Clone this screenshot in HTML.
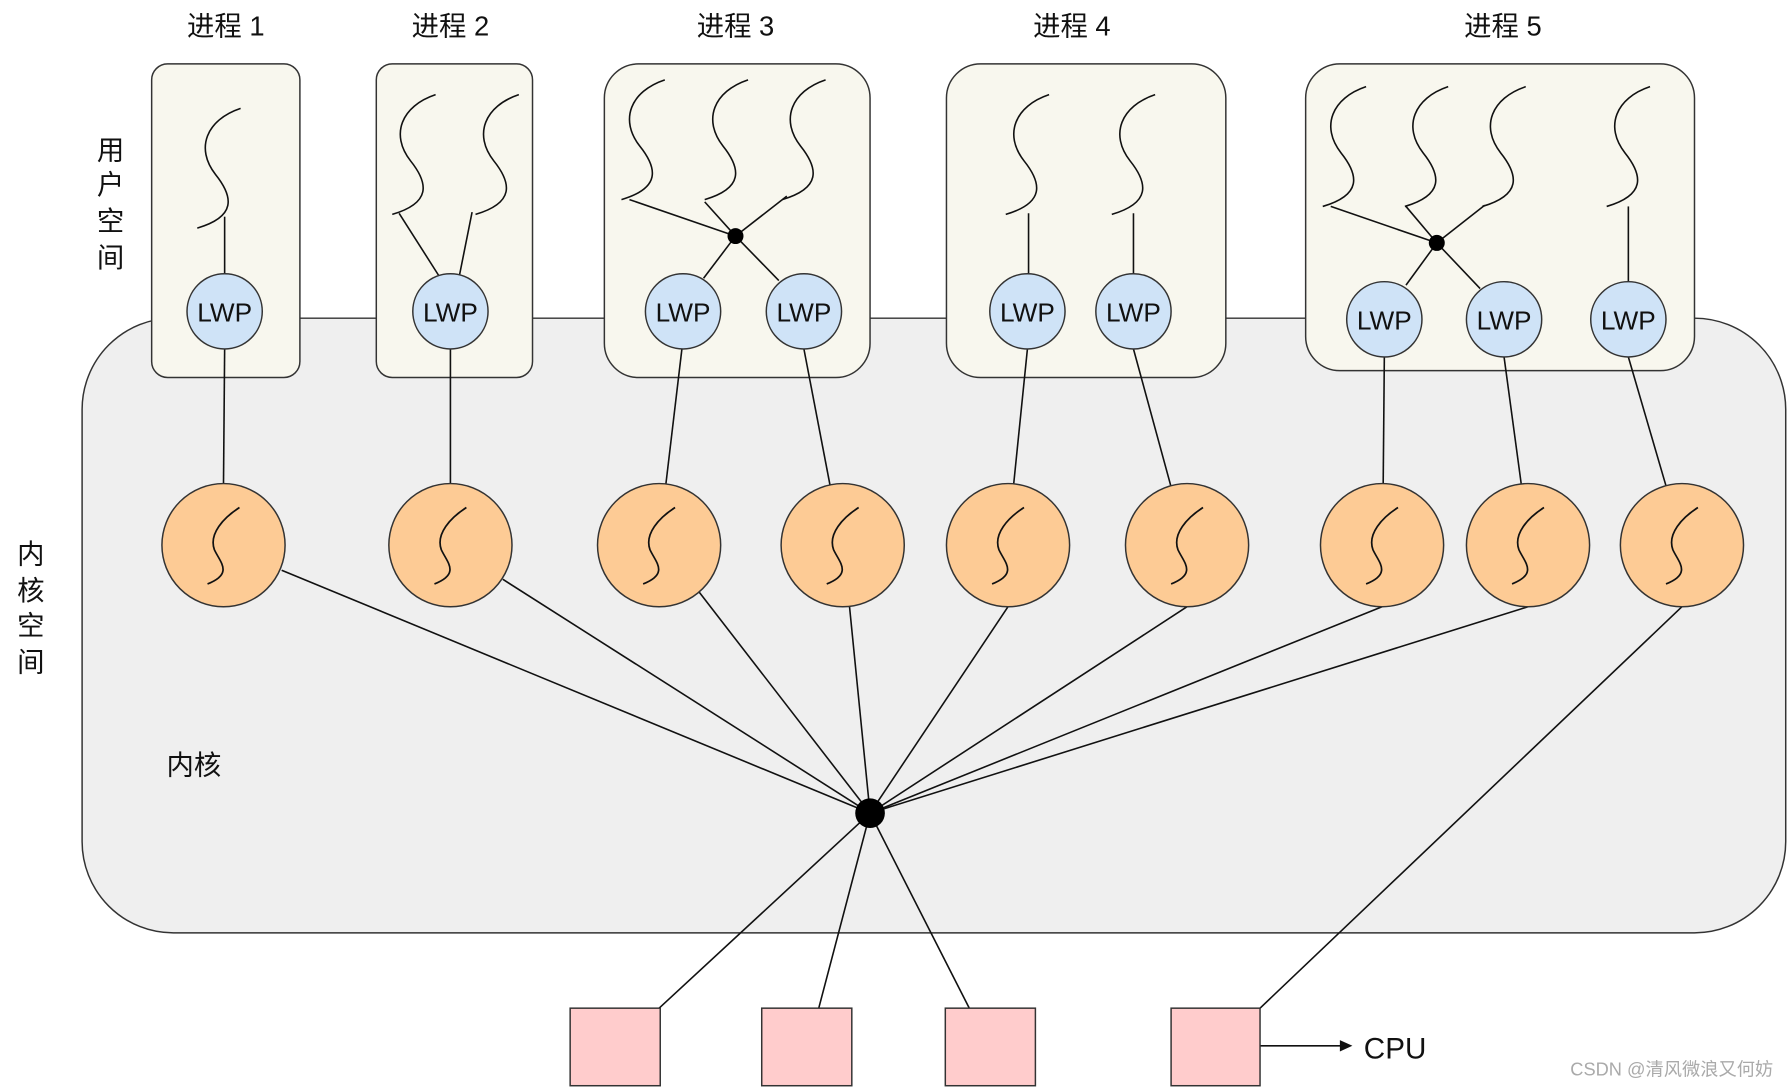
<!DOCTYPE html>
<html><head><meta charset="utf-8"><style>
html,body{margin:0;padding:0;background:#fff;}
svg{display:block;}
text{font-family:"Liberation Sans","Noto Sans CJK SC",sans-serif;fill:#111;}
</style></head><body>
<svg width="1788" height="1088" viewBox="0 0 1568 954" preserveAspectRatio="none" xmlns="http://www.w3.org/2000/svg">
<defs>
<path id="th" d="M0,0 C-30,10 -40,35 -22,58 C-6,78 -4,95 -38,105" fill="none" stroke="#111" stroke-width="1.4"/>
<path id="ks" d="M14,-33 C0,-24 -13,-10 -8,4 C-3,15 9,25 -14,34" fill="none" stroke="#111" stroke-width="1.5"/>
</defs>
<rect x="72" y="279" width="1494" height="539" rx="80" fill="#efefef" stroke="#333" stroke-width="1.3"/>
<g fill="#f8f7ee" stroke="#333" stroke-width="1.3">
<rect x="133" y="56" width="130" height="275" rx="14"/>
<rect x="330" y="56" width="137" height="275" rx="14"/>
<rect x="530" y="56" width="233" height="275" rx="30"/>
<rect x="830" y="56" width="245" height="275" rx="30"/>
<rect x="1145" y="56" width="341" height="269" rx="30"/>
</g>
<g font-size="24" text-anchor="middle">
<text x="198" y="31">进程 1</text><text x="395" y="31">进程 2</text><text x="645" y="31">进程 3</text><text x="940" y="31">进程 4</text><text x="1318" y="31">进程 5</text>
</g>
<g font-size="24" text-anchor="middle">
<text x="97" y="140">用</text><text x="97" y="170">户</text><text x="97" y="202">空</text><text x="97" y="234">间</text>
<text x="27" y="494">内</text><text x="27" y="526">核</text><text x="27" y="557">空</text><text x="27" y="589">间</text>
</g>
<text x="146" y="679" font-size="24">内核</text>
<!-- threads -->
<g>
<use href="#th" x="211" y="95"/>
<use href="#th" x="382" y="83"/><use href="#th" x="455" y="83"/>
<use href="#th" x="583" y="70"/><use href="#th" x="656" y="70"/><use href="#th" x="724" y="70"/>
<use href="#th" x="920" y="83"/><use href="#th" x="1013" y="83"/>
<use href="#th" x="1198" y="76"/><use href="#th" x="1270" y="76"/><use href="#th" x="1338" y="76"/><use href="#th" x="1447" y="76"/>
</g>
<g stroke="#111" stroke-width="1.4" fill="none">
<line x1="197" y1="190" x2="197" y2="240"/>
<line x1="350" y1="187" x2="385" y2="242"/><line x1="414" y1="186" x2="403" y2="241"/>
<line x1="552" y1="175" x2="645" y2="207"/><line x1="618" y1="177" x2="645" y2="207"/><line x1="690" y1="172" x2="645" y2="207"/>
<line x1="645" y1="207" x2="617" y2="244"/><line x1="645" y1="207" x2="683" y2="246"/>
<line x1="902" y1="187" x2="902" y2="240"/><line x1="994" y1="187" x2="994" y2="240"/>
<line x1="1167" y1="181" x2="1260" y2="213"/><line x1="1233" y1="181" x2="1260" y2="213"/><line x1="1302" y1="180" x2="1260" y2="213"/>
<line x1="1260" y1="213" x2="1233" y2="250"/><line x1="1260" y1="213" x2="1298" y2="253"/>
<line x1="1428" y1="181" x2="1428" y2="247"/>
<line x1="197" y1="306" x2="196" y2="424"/><line x1="395" y1="306" x2="395" y2="424"/>
<line x1="598" y1="306" x2="584" y2="424"/><line x1="705" y1="306" x2="728" y2="426"/>
<line x1="901" y1="306" x2="889" y2="424"/><line x1="994" y1="306" x2="1027" y2="427"/>
<line x1="1214" y1="313" x2="1213" y2="424"/><line x1="1319" y1="313" x2="1334" y2="424"/><line x1="1428" y1="313" x2="1461" y2="426"/>
<line x1="247" y1="500" x2="763" y2="713"/><line x1="441" y1="508" x2="763" y2="713"/><line x1="613" y1="519" x2="763" y2="713"/>
<line x1="745" y1="532" x2="763" y2="713"/><line x1="884" y1="532" x2="763" y2="713"/><line x1="1041" y1="532" x2="763" y2="713"/>
<line x1="1212" y1="532" x2="763" y2="713"/><line x1="1340" y1="532" x2="763" y2="713"/>
<line x1="1475" y1="532" x2="1105" y2="884"/>
<line x1="763" y1="713" x2="578" y2="884"/><line x1="763" y1="713" x2="718" y2="884"/><line x1="763" y1="713" x2="850" y2="884"/>
<line x1="1105" y1="917" x2="1178" y2="917"/>
</g>
<polygon points="1186,917 1175,912 1175,922" fill="#111"/>
<circle cx="645" cy="207" r="7" fill="#000"/>
<circle cx="1260" cy="213" r="7" fill="#000"/>
<circle cx="763" cy="713" r="13" fill="#000"/>
<!-- LWPs -->
<g fill="#cfe3f7" stroke="#333" stroke-width="1.3">
<circle cx="197" cy="273" r="33"/><circle cx="395" cy="273" r="33"/>
<circle cx="599" cy="273" r="33"/><circle cx="705" cy="273" r="33"/>
<circle cx="901" cy="273" r="33"/><circle cx="994" cy="273" r="33"/>
<circle cx="1214" cy="280" r="33"/><circle cx="1319" cy="280" r="33"/><circle cx="1428" cy="280" r="33"/>
</g>
<g font-size="23" text-anchor="middle">
<text x="197" y="282">LWP</text><text x="395" y="282">LWP</text>
<text x="599" y="282">LWP</text><text x="705" y="282">LWP</text>
<text x="901" y="282">LWP</text><text x="994" y="282">LWP</text>
<text x="1214" y="289">LWP</text><text x="1319" y="289">LWP</text><text x="1428" y="289">LWP</text>
</g>
<!-- kernel threads -->
<g fill="#fdcb95" stroke="#333" stroke-width="1.3">
<circle cx="196" cy="478" r="54"/><circle cx="395" cy="478" r="54"/><circle cx="578" cy="478" r="54"/>
<circle cx="739" cy="478" r="54"/><circle cx="884" cy="478" r="54"/><circle cx="1041" cy="478" r="54"/>
<circle cx="1212" cy="478" r="54"/><circle cx="1340" cy="478" r="54"/><circle cx="1475" cy="478" r="54"/>
</g>
<g>
<use href="#ks" x="196" y="478"/><use href="#ks" x="395" y="478"/><use href="#ks" x="578" y="478"/>
<use href="#ks" x="739" y="478"/><use href="#ks" x="884" y="478"/><use href="#ks" x="1041" y="478"/>
<use href="#ks" x="1212" y="478"/><use href="#ks" x="1340" y="478"/><use href="#ks" x="1475" y="478"/>
</g>
<g fill="#ffcccc" stroke="#333" stroke-width="1.3">
<rect x="500" y="884" width="79" height="68"/><rect x="668" y="884" width="79" height="68"/>
<rect x="829" y="884" width="79" height="68"/><rect x="1027" y="884" width="78" height="68"/>
</g>
<text x="1196" y="928" font-size="26">CPU</text>
<text x="1555" y="943" font-size="16" text-anchor="end" style="fill:#aaa">CSDN @清风微浪又何妨</text>
</svg>
</body></html>
